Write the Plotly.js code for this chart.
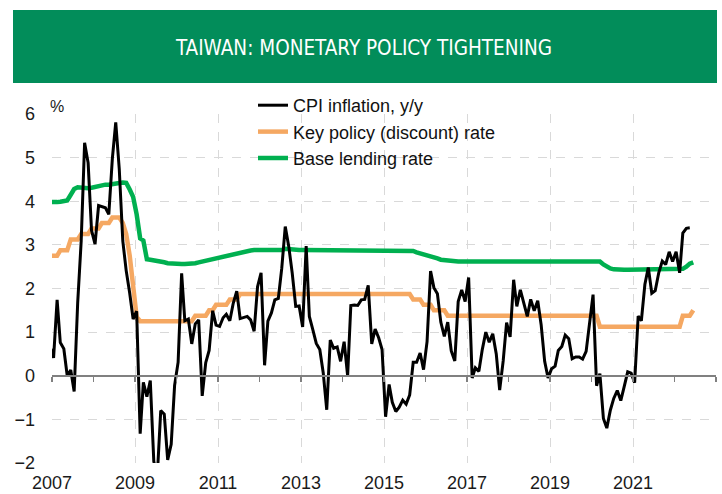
<!DOCTYPE html>
<html>
<head>
<meta charset="utf-8">
<script src="https://cdn.plot.ly/plotly-3.0.1.min.js"></script>
<style>
html,body{margin:0;padding:0;background:#fff;}
#chart{width:722px;height:494px;}
</style>
</head>
<body>
<div id="chart"></div>
<script>
// ---- DATA (monthly, first value = Dec 2006) ----
var startYear = 2006, startMonth = 12;

var cpiInflation = [
  0.67,
  0.41, 1.74, 0.76, 0.62, 0.00, 0.13, -0.36, 1.67, 3.09, 5.34, 4.88, 3.33,
  3.02, 3.90, 3.87, 3.85, 3.70, 4.97, 5.81, 4.74, 3.09, 2.41, 1.89, 1.30,
  1.48, -1.33, -0.15, -0.48, -0.11, -1.96, -2.33, -0.80, -0.88, -1.93, -1.57, -0.22,
  0.31, 2.35, 1.26, 1.30, 0.73, 1.19, 1.28, -0.46, 0.30, 0.58, 1.49, 1.16,
  1.13, 1.33, 1.41, 1.26, 1.66, 1.94, 1.31, 1.34, 1.36, 1.28, 1.02, 2.04,
  2.36, 0.24, 1.25, 1.44, 1.74, 1.77, 2.46, 3.42, 2.96, 2.36, 1.59, 1.60,
  1.12, 2.97, 1.36, 1.05, 0.74, 0.60, 0.07, -0.78, 0.82, 0.63, 0.66, 0.33,
  0.78, 0.00, 1.61, 1.62, 1.61, 1.74, 1.75, 2.07, 0.73, 1.07, 0.87, 0.60,
  -0.94, -0.20, -0.61, -0.82, -0.72, -0.56, -0.65, -0.44, 0.31, 0.31, 0.52, 0.14,
  0.78, 2.40, 2.02, 1.88, 1.23, 0.90, 1.23, 0.57, 0.34, 1.70, 1.97, 1.70,
  2.25, -0.05, 0.18, 0.10, 0.60, 1.00, 0.77, 0.96, 0.50, -0.33, 0.34, 1.22,
  0.89, 2.20, 1.59, 1.97, 1.66, 1.36, 1.75, 1.49, 1.72, 1.17, 0.33, -0.05,
  0.16, 0.22, 0.58, 0.67, 0.93, 0.85, 0.39, 0.43, 0.43, 0.38, 0.56, 1.14,
  1.86, -0.23, 0.05, -0.98, -1.20, -0.79, -0.52, -0.34, -0.57, -0.25, 0.09, 0.06,
  -0.16, 1.37, 1.26, 2.09, 2.48, 1.89, 1.95, 2.36, 2.63, 2.55, 2.84, 2.62,
  2.84, 2.36, 3.27, 3.38, 3.39
];

var policyRate = [
  2.75,
  2.75, 2.75, 2.875, 2.875, 2.875, 3.125, 3.125, 3.125, 3.25, 3.25, 3.25, 3.375,
  3.375, 3.375, 3.5, 3.5, 3.5, 3.625, 3.625, 3.625, 3.5, 3.25, 2.75, 2.0,
  1.35, 1.25, 1.25, 1.25, 1.25, 1.25, 1.25, 1.25, 1.25, 1.25, 1.25, 1.25,
  1.25, 1.25, 1.25, 1.25, 1.25, 1.375, 1.375, 1.375, 1.375, 1.5, 1.5, 1.625,
  1.625, 1.625, 1.625, 1.75, 1.75, 1.75, 1.875, 1.875, 1.875, 1.875, 1.875, 1.875,
  1.875, 1.875, 1.875, 1.875, 1.875, 1.875, 1.875, 1.875, 1.875, 1.875, 1.875, 1.875,
  1.875, 1.875, 1.875, 1.875, 1.875, 1.875, 1.875, 1.875, 1.875, 1.875, 1.875, 1.875,
  1.875, 1.875, 1.875, 1.875, 1.875, 1.875, 1.875, 1.875, 1.875, 1.875, 1.875, 1.875,
  1.875, 1.875, 1.875, 1.875, 1.875, 1.875, 1.875, 1.875, 1.75, 1.75, 1.75, 1.625,
  1.625, 1.625, 1.5, 1.5, 1.5, 1.5, 1.375, 1.375, 1.375, 1.375, 1.375, 1.375,
  1.375, 1.375, 1.375, 1.375, 1.375, 1.375, 1.375, 1.375, 1.375, 1.375, 1.375, 1.375,
  1.375, 1.375, 1.375, 1.375, 1.375, 1.375, 1.375, 1.375, 1.375, 1.375, 1.375, 1.375,
  1.375, 1.375, 1.375, 1.375, 1.375, 1.375, 1.375, 1.375, 1.375, 1.375, 1.375, 1.375,
  1.375, 1.375, 1.125, 1.125, 1.125, 1.125, 1.125, 1.125, 1.125, 1.125, 1.125, 1.125,
  1.125, 1.125, 1.125, 1.125, 1.125, 1.125, 1.125, 1.125, 1.125, 1.125, 1.125, 1.125,
  1.125, 1.125, 1.375, 1.375, 1.375, 1.5
];

var baseLendingRate = [
  3.98,
  3.97, 3.98, 3.99, 4.00, 4.02, 4.15, 4.28, 4.32, 4.31, 4.30, 4.30, 4.31,
  4.33, 4.35, 4.37, 4.38, 4.38, 4.40, 4.41, 4.42, 4.43, 4.42, 4.27, 4.10,
  3.70, 3.15, 3.10, 2.67, 2.66, 2.65, 2.64, 2.62, 2.60, 2.58, 2.57, 2.56,
  2.56, 2.56, 2.56, 2.56, 2.57, 2.58, 2.60, 2.62, 2.63, 2.65, 2.66, 2.68,
  2.70, 2.72, 2.73, 2.75, 2.77, 2.79, 2.81, 2.83, 2.86, 2.87, 2.88, 2.88,
  2.88, 2.88, 2.88, 2.88, 2.88, 2.88, 2.88, 2.91, 2.90, 2.88, 2.88, 2.88,
  2.88, 2.88, 2.88, 2.88, 2.88, 2.88, 2.88, 2.88, 2.88, 2.88, 2.88, 2.88,
  2.88, 2.88, 2.88, 2.88, 2.88, 2.88, 2.88, 2.88, 2.88, 2.88, 2.88, 2.88,
  2.88, 2.88, 2.88, 2.88, 2.88, 2.88, 2.88, 2.88, 2.86, 2.83, 2.81, 2.79,
  2.77, 2.75, 2.73, 2.69, 2.66, 2.65, 2.63, 2.62, 2.62, 2.62, 2.62, 2.62,
  2.62, 2.62, 2.62, 2.62, 2.62, 2.62, 2.62, 2.62, 2.62, 2.62, 2.62, 2.62,
  2.62, 2.62, 2.62, 2.62, 2.62, 2.62, 2.62, 2.62, 2.62, 2.62, 2.62, 2.62,
  2.62, 2.62, 2.62, 2.62, 2.62, 2.62, 2.62, 2.62, 2.62, 2.62, 2.62, 2.62,
  2.62, 2.62, 2.62, 2.55, 2.50, 2.46, 2.44, 2.43, 2.43, 2.43, 2.43, 2.43,
  2.43, 2.43, 2.43, 2.43, 2.43, 2.43, 2.43, 2.43, 2.43, 2.43, 2.43, 2.43,
  2.43, 2.43, 2.45, 2.50, 2.57, 2.60
];

var yearTicks = ['2007-01-01','2009-01-01','2011-01-01','2013-01-01','2015-01-01','2017-01-01','2019-01-01','2021-01-01','2023-01-01'];
var yearLabels = ['2007','2009','2011','2013','2015','2017','2019','2021',''];
var yTicks = [-2, -1, 0, 1, 2, 3, 4, 5, 6];

var seriesNames = ['CPI inflation, y/y', 'Key policy (discount) rate', 'Base lending rate'];
var chartTitle = 'TAIWAN: MONETARY POLICY TIGHTENING';

// month labels (mid-month) for each observation
function monthDates(n) {
  var out = [];
  for (var i = 0; i < n; i++) {
    var m0 = (startMonth - 1) + i;
    var y = startYear + Math.floor(m0 / 12);
    var m = (m0 % 12) + 1;
    out.push(y + '-' + (m < 10 ? '0' + m : m) + '-15');
  }
  return out;
}

var FONT = '"Liberation Sans", Arial, sans-serif';
var NARROW = '"Liberation Sans Narrow", "Arial Narrow", "DejaVu Sans Condensed", "Liberation Sans", sans-serif';

var traces = [
  {
    x: monthDates(baseLendingRate.length), y: baseLendingRate,
    name: seriesNames[2], type: 'scatter', mode: 'lines',
    line: {color: '#00b050', width: 4.5}, xaxis: 'x', yaxis: 'y', hoverinfo: 'skip'
  },
  {
    x: monthDates(policyRate.length), y: policyRate,
    name: seriesNames[1], type: 'scatter', mode: 'lines',
    line: {color: '#f5a862', width: 4.5}, xaxis: 'x', yaxis: 'y', hoverinfo: 'skip'
  },
  {
    x: monthDates(cpiInflation.length), y: cpiInflation,
    name: seriesNames[0], type: 'scatter', mode: 'lines',
    line: {color: '#000000', width: 3}, xaxis: 'x2', yaxis: 'y', hoverinfo: 'skip'
  }
];

var W = 722, H = 494;
var mL = 52, mR = 6, mT = 114, mB = 31;
var pw = W - mL - mR, ph = H - mT - mB;
function px(xpix) { return (xpix - mL) / pw; }
function py(ypix) { return (H - mB - ypix) / ph; }

var xr = ['2007-01-01', '2023-01-01'];

var layout = {
  width: W, height: H,
  margin: {l: mL, r: mR, t: mT, b: mB, pad: 0},
  paper_bgcolor: '#ffffff', plot_bgcolor: '#ffffff',
  font: {family: FONT, color: '#1a1a1a', size: 18},
  showlegend: true,
  title: {
    text: chartTitle,
    font: {family: NARROW, size: 20.5, color: '#ffffff'},
    x: 364 / W, xanchor: 'center', xref: 'container',
    y: 1 - 48 / H, yanchor: 'middle', yref: 'container'
  },
  xaxis: {
    type: 'date', range: xr,
    tickmode: 'array', tickvals: yearTicks, ticktext: yearLabels,
    showgrid: true, gridcolor: '#d9d9d9', griddash: 'dash', gridwidth: 1,
    showline: false, zeroline: false, ticks: '',
    ticklabelstandoff: 7,
    tickfont: {family: FONT, size: 18, color: '#1a1a1a'},
    fixedrange: true
  },
  xaxis2: {
    type: 'date', range: xr, overlaying: 'x', anchor: 'free', position: 0.25,
    showgrid: false, zeroline: false, showticklabels: false,
    showline: true, linecolor: '#808080', linewidth: 2,
    ticks: 'outside', ticklen: 5, tickwidth: 1.5, tickcolor: '#808080',
    tickmode: 'linear', tick0: '2007-01-01', dtick: 'M12',
    fixedrange: true
  },
  yaxis: {
    range: [-2, 6], tickmode: 'array', tickvals: yTicks,
    showgrid: true, gridcolor: '#d9d9d9', griddash: 'dash', gridwidth: 1,
    zeroline: false, showline: false, ticks: '',
    ticklabelstandoff: 16,
    tickfont: {family: FONT, size: 18, color: '#1a1a1a'},
    fixedrange: true
  },
  legend: {
    x: px(253), xanchor: 'left', xref: 'paper',
    y: py(87), yanchor: 'top', yref: 'paper',
    traceorder: 'reversed',
    bgcolor: 'rgba(0,0,0,0)', borderwidth: 0,
    font: {family: FONT, size: 18, color: '#111111'},
    itemwidth: 30
  },
  shapes: [
    {
      type: 'rect', xref: 'paper', yref: 'paper',
      x0: px(13), x1: px(717), y0: py(83), y1: py(10),
      fillcolor: '#028d5a', line: {width: 0}, layer: 'below'
    }
  ],
  annotations: [
    {
      text: '%', xref: 'paper', yref: 'paper',
      x: px(48), xanchor: 'left', y: py(117), yanchor: 'bottom',
      showarrow: false, font: {family: FONT, size: 16, color: '#1a1a1a'}
    }
  ]
};

Plotly.newPlot('chart', traces, layout, {displayModeBar: false, staticPlot: true});
</script>
</body>
</html>
